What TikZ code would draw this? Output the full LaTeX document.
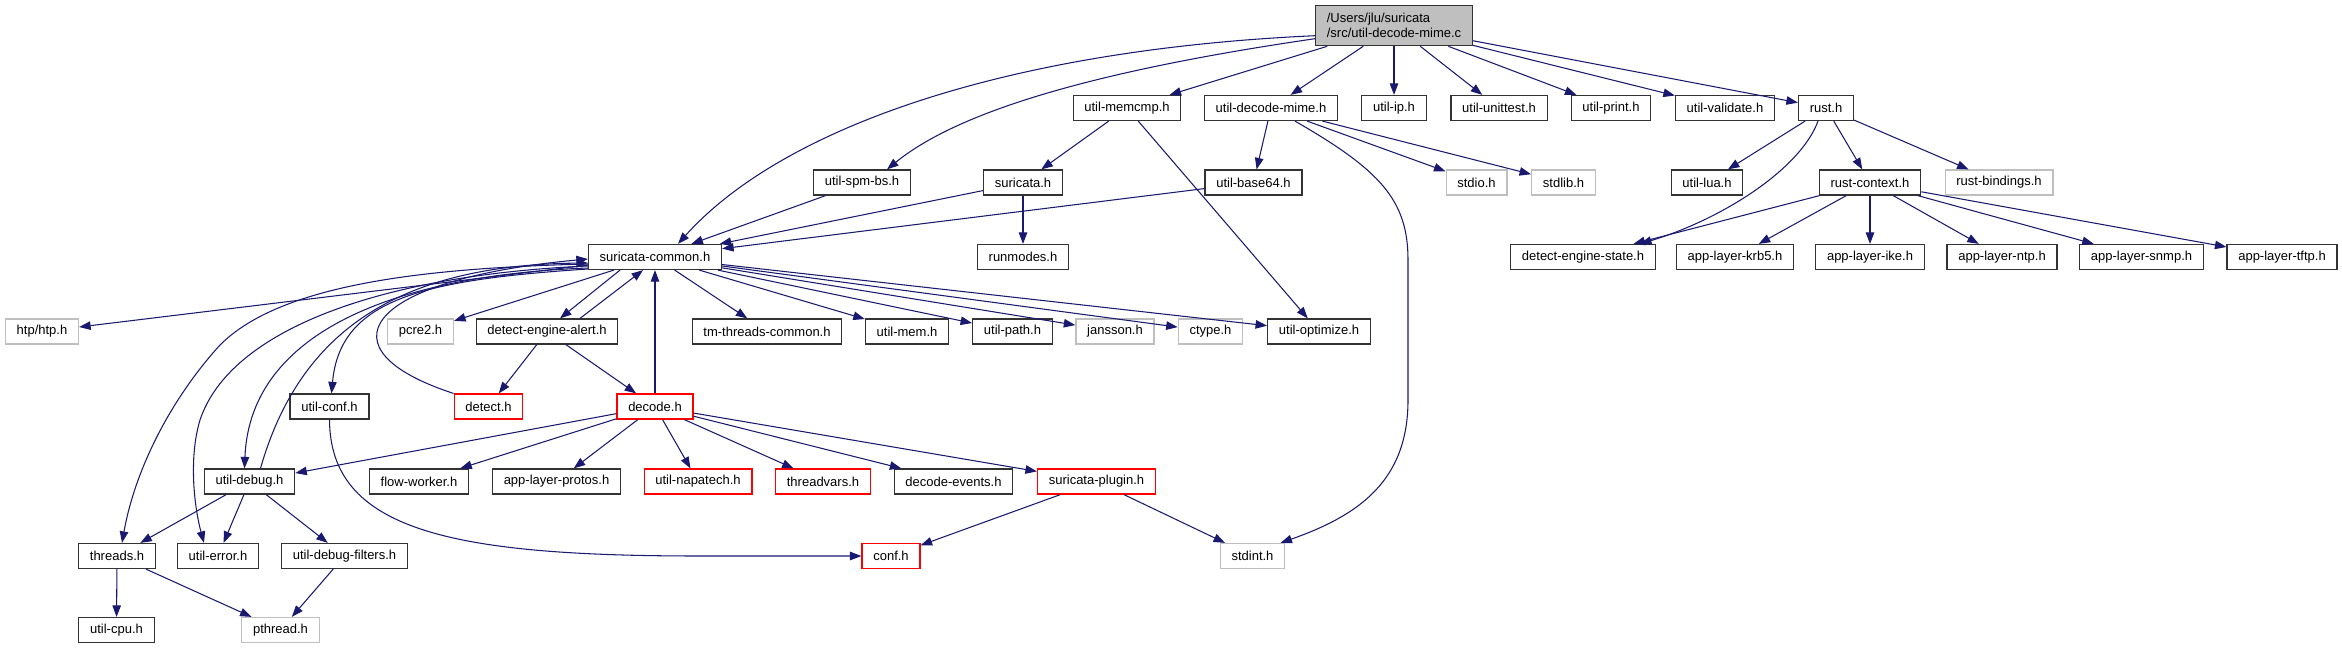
\documentclass[tikz,border=0pt]{standalone}
\usepackage{fontspec}
\setmainfont{Liberation Sans}
\usepackage{tikz}
\usetikzlibrary{positioning,calc,arrows.meta}

\definecolor{edgeblue}{HTML}{191970}
\definecolor{boxgray}{HTML}{BFBFBF}

\begin{document}
\begin{tikzpicture}[x=0.02cm, y=-0.02cm,
  every node/.style={draw, rectangle, align=center, font=\fontsize{7.4}{8.5}\selectfont,
    inner xsep=6.4pt, inner ysep=0pt, minimum height=0.5cm, fill=white},
  hdr/.style={draw=black!80, line width=0.7pt},
  sys/.style={draw=boxgray, line width=0.7pt},
  trunc/.style={draw=red, line width=0.7pt},
  dep/.style={draw=edgeblue, line width=0.6pt, -{Triangle[length=0.23cm,width=0.17cm]}}]
\useasboundingbox (0,0) rectangle (2342,649);

% Source file
\node (root) [hdr, fill=boxgray, align=left, minimum height=0.8cm] at (1394,25.7) {/Users/jlu/suricata\\/src/util-decode-mime.c};

% Direct includes
\node (memcmp) [hdr] at (1127,108) {util-memcmp.h};
\node (dmime) [hdr] at (1271,108) {util-decode-mime.h};
\node (utilip) [hdr] at (1394,108) {util-ip.h};
\node (unittest) [hdr] at (1499,108) {util-unittest.h};
\node (uprint) [hdr] at (1611,108) {util-print.h};
\node (uvalidate) [hdr] at (1725,108) {util-validate.h};
\node (rust) [hdr] at (1826,108) {rust.h};

\node (spmbs) [hdr] at (862,182.5) {util-spm-bs.h};
\node (suricata) [hdr] at (1023,182.5) {suricata.h};
\node (base64) [hdr] at (1253.5,182.5) {util-base64.h};
\node (stdio) [sys] at (1476.5,182.5) {stdio.h};
\node (stdlib) [sys] at (1563.5,182.5) {stdlib.h};
\node (ulua) [hdr] at (1707,182.5) {util-lua.h};
\node (rustctx) [hdr] at (1870,182.5) {rust-context.h};
\node (rustbind) [sys] at (1999,182.5) {rust-bindings.h};

\node (common) [hdr] at (655,257) {suricata-common.h};
\node (runmodes) [hdr] at (1023,257) {runmodes.h};
\node (destate) [hdr] at (1583,257) {detect-engine-state.h};
\node (krb5) [hdr] at (1735,257) {app-layer-krb5.h};
\node (ike) [hdr] at (1870,257) {app-layer-ike.h};
\node (ntp) [hdr] at (2002,257) {app-layer-ntp.h};
\node (snmp) [hdr] at (2141.5,257) {app-layer-snmp.h};
\node (tftp) [hdr] at (2282,257) {app-layer-tftp.h};

% Common headers
\node (htp) [sys] at (42,331.5) {htp/htp.h};
\node (pcre) [sys] at (420.5,331.5) {pcre2.h};
\node (dealert) [hdr] at (547,331.5) {detect-engine-alert.h};
\node (tmthreads) [hdr] at (767,331.5) {tm-threads-common.h};
\node (umem) [hdr] at (907,331.5) {util-mem.h};
\node (upath) [hdr] at (1012.5,331.5) {util-path.h};
\node (jansson) [sys] at (1115,331.5) {jansson.h};
\node (ctype) [sys] at (1210.5,331.5) {ctype.h};
\node (optimize) [hdr] at (1319,331.5) {util-optimize.h};

\node (uconf) [hdr] at (329.5,406.5) {util-conf.h};
\node (detect) [trunc] at (488.5,406.5) {detect.h};
\node (decode) [trunc] at (655,406.5) {decode.h};

\node (udebug) [hdr] at (249.5,481.5) {util-debug.h};
\node (flowworker) [hdr] at (419,481.5) {flow-worker.h};
\node (protos) [hdr] at (556.5,481.5) {app-layer-protos.h};
\node (napatech) [trunc] at (698,481.5) {util-napatech.h};
\node (threadvars) [trunc] at (823,481.5) {threadvars.h};
\node (devents) [hdr] at (953.5,481.5) {decode-events.h};
\node (plugin) [trunc] at (1096.5,481.5) {suricata-plugin.h};

\node (threads) [hdr] at (117,556) {threads.h};
\node (uerror) [hdr] at (218,556) {util-error.h};
\node (dfilters) [hdr] at (344.5,556) {util-debug-filters.h};
\node (conf) [trunc] at (891,556) {conf.h};
\node (stdint) [sys] at (1252.5,556) {stdint.h};

\node (ucpu) [hdr] at (116.5,630) {util-cpu.h};
\node (pthread) [sys] at (280.5,630) {pthread.h};

% Edges from the source file
\draw[dep] ($(root.west)+(0,10)$) .. controls (1000,50) and (780,130) .. ($(common.north)+(23,0)$);
\draw[dep] ($(root.west)+(0,13)$) .. controls (1100,70) and (960,110) .. ($(spmbs.north)+(25,0)$);
\draw[dep] (root) -- (memcmp);
\draw[dep] (root) -- (dmime);
\draw[dep] (root) -- (utilip);
\draw[dep] (root) -- (unittest);
\draw[dep] (root) -- (uprint);
\draw[dep] (root) -- (uvalidate);
\draw[dep] (root) -- (rust);

% Second level
\draw[dep] (memcmp) -- (suricata);
\draw[dep] (memcmp) -- (optimize);
\draw[dep] (dmime) -- (base64);
\draw[dep] (dmime) -- (stdio);
\draw[dep] (dmime) -- (stdlib);
\draw[dep] ($(dmime.south)+(24,0)$) .. controls (1380,170) and (1408,200) .. (1408,260) -- (1408,400)
  .. controls (1408,480) and (1360,515) .. ($(stdint.north)+(28,0)$);
\draw[dep] (spmbs) -- (common);
\draw[dep] (suricata) -- (common);
\draw[dep] (suricata) -- (runmodes);
\draw[dep] (base64) -- (common);
\draw[dep] (rust) -- (ulua);
\draw[dep] (rust) -- (rustctx);
\draw[dep] (rust) -- (rustbind);
\draw[dep] ($(rust.south)+(-8,0)$) .. controls (1800,170) and (1720,220) .. ($(destate.north)+(57,0)$);
\foreach \t in {destate,krb5,ike,ntp,snmp,tftp}
  \draw[dep] (rustctx) -- (\t);

% suricata-common.h and below
\draw[dep] (common) -- (htp);
\draw[dep] ($(common.west)+(0,7)$) .. controls (420,268) and (280,285) .. (220,345)
  .. controls (170,400) and (135,470) .. ($(threads.north)+(5,0)$);
\draw[dep] ($(common.west)+(0,9)$) .. controls (380,275) and (230,330) .. (200,420)
  .. controls (188,460) and (195,510) .. ($(uerror.north)+(-14,0)$);
\draw[dep] ($(common.west)+(0,11)$) .. controls (400,275) and (250,330) .. ($(udebug.north)+(-5,0)$);
\draw[dep] ($(udebug.north)+(11,0)$) .. controls (300,330) and (400,265) .. ($(common.west)+(0,6)$);
\draw[dep] ($(common.west)+(0,12)$) .. controls (420,280) and (340,300) .. ($(uconf.north)+(2,0)$);
\draw[dep] (detect.north west) .. controls (320,350) and (360,280) .. ($(common.west)+(0,2)$);
\draw[dep] (common) -- (pcre);
\draw[dep] ($(common.south)+(-35,0)$) -- ($(dealert.north)+(13,0)$);
\draw[dep] ($(dealert.north)+(33,0)$) -- ($(common.south)+(-12,0)$);
\draw[dep] (decode) -- (common);
\foreach \t in {tmthreads,umem,upath,jansson,ctype,optimize}
  \draw[dep] (common) -- (\t);

\draw[dep] (dealert) -- (detect);
\draw[dep] (dealert) -- (decode);
\foreach \t in {udebug,flowworker,protos,napatech,threadvars,devents,plugin}
  \draw[dep] (decode) -- (\t);
\draw[dep] (uconf.south) .. controls (330,530) and (450,556) .. (700,556) -- (conf.west);

\draw[dep] (udebug) -- (threads);
\draw[dep] (udebug) -- (uerror);
\draw[dep] (udebug) -- (dfilters);
\draw[dep] (threads) -- (ucpu);
\draw[dep] (threads) -- (pthread);
\draw[dep] (dfilters) -- (pthread);
\draw[dep] (plugin) -- (conf);
\draw[dep] (plugin) -- (stdint);
\end{tikzpicture}
\end{document}
